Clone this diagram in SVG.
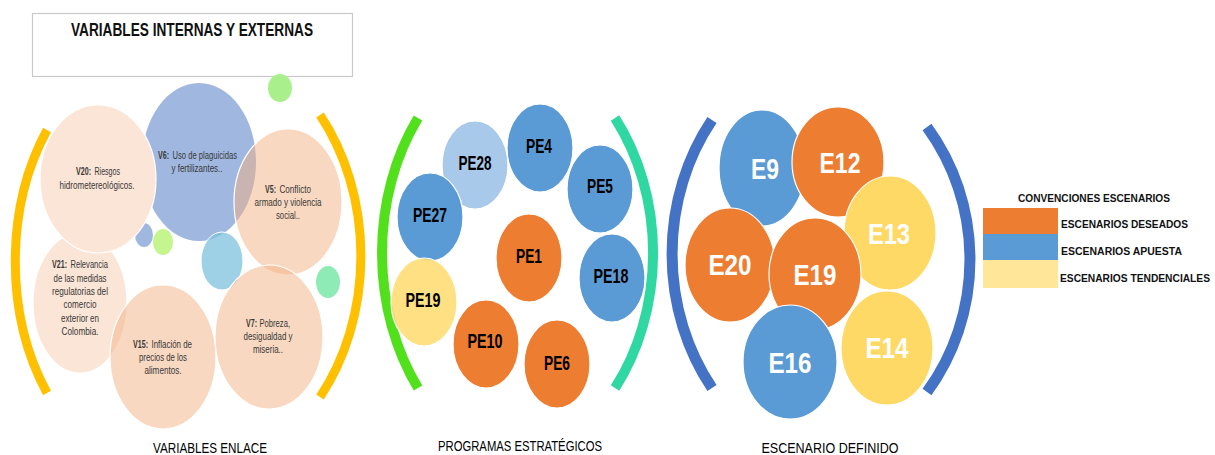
<svg xmlns="http://www.w3.org/2000/svg" width="1215" height="455" viewBox="0 0 1215 455">
<style>
text{font-family:"Liberation Sans",Arial,sans-serif;}
.sm{font-size:10.5px;fill:#383838;text-anchor:middle;}
.sl{font-size:10.5px;fill:#383838;}
.b{font-weight:bold;}
.pe{font-size:21px;font-weight:bold;fill:#000;text-anchor:middle;}
.e{font-size:30px;font-weight:bold;fill:#fff;text-anchor:middle;}
.cap{font-size:14.5px;fill:#000;text-anchor:middle;}
.leg{font-size:11.5px;font-weight:bold;fill:#111;}
.br{fill:none;stroke-linecap:butt;}
.wo{stroke:#fff;stroke-width:1.2;}
.peach{fill:#f4b183;fill-opacity:0.5;}
.lpeach{fill:#fbe5d6;}
.blu{fill:#5b9bd5;}
.org{fill:#ed7d31;}
.yel{fill:#ffd966;}
</style>
<rect width="1215" height="455" fill="#fff"/>

<g id="title">
<rect x="32.5" y="13.5" width="320" height="63" fill="#fff" stroke="#c9c9c9" stroke-width="1.2"/>
<text x="192" y="36" font-size="18.5" font-weight="bold" fill="#111" text-anchor="middle" textLength="242" lengthAdjust="spacingAndGlyphs">VARIABLES INTERNAS Y EXTERNAS</text>
</g>

<g id="brackets" class="br">
<path d="M47,130 A160,220 0 0 0 47,393" stroke="#ffc000" stroke-width="9"/>
<path d="M320,115 A176,220 0 0 1 320,397" stroke="#ffc000" stroke-width="9"/>
<path d="M418,118 A171,220 0 0 0 418,388" stroke="#52e01c" stroke-width="10"/>
<path d="M615,118 A181,220 0 0 1 615,388" stroke="#2fd7a1" stroke-width="10"/>
<path d="M712,120 A193,220 0 0 0 712,388" stroke="#4472c4" stroke-width="11"/>
<path d="M927,127 A213,220 0 0 1 927,392" stroke="#4472c4" stroke-width="11"/>
</g>

<g id="variables-enlace">
<g id="dot-green-top"><ellipse cx="280" cy="88" rx="12" ry="14" fill="#a9f08c"/></g>
<g id="V6"><ellipse cx="199" cy="162" rx="57" ry="79" fill="#a0b7e0"/>
<text class="sl b" x="158" y="159" textLength="11" lengthAdjust="spacingAndGlyphs">V6:</text>
<text class="sl" x="172.5" y="159" textLength="64.5" lengthAdjust="spacingAndGlyphs">Uso de plaguicidas</text>
<text class="sm" x="197" y="172" textLength="51" lengthAdjust="spacingAndGlyphs">y fertilizantes..</text></g>
<g id="dot-blue"><ellipse cx="144" cy="235" rx="9" ry="12" fill="#a0b7e0"/></g>
<g id="dot-green-left"><ellipse cx="163" cy="242" rx="10" ry="13" fill="#c5f58e"/></g>
<g id="V21"><ellipse class="lpeach wo" cx="80" cy="303" rx="47" ry="70"/>
<text class="sl b" x="52" y="268" textLength="15" lengthAdjust="spacingAndGlyphs">V21:</text>
<text class="sl" x="70.5" y="268" textLength="37.5" lengthAdjust="spacingAndGlyphs">Relevancia</text>
<text class="sm" x="80" y="281.5" textLength="53" lengthAdjust="spacingAndGlyphs">de las medidas</text>
<text class="sm" x="80" y="295" textLength="56" lengthAdjust="spacingAndGlyphs">regulatorias del</text>
<text class="sm" x="80" y="308" textLength="33" lengthAdjust="spacingAndGlyphs">comercio</text>
<text class="sm" x="80" y="321.5" textLength="38" lengthAdjust="spacingAndGlyphs">exterior en</text>
<text class="sm" x="80" y="335" textLength="37" lengthAdjust="spacingAndGlyphs">Colombia.</text></g>
<g id="V20"><ellipse class="lpeach wo" cx="98" cy="179" rx="58" ry="74"/>
<text class="sl b" x="76" y="175" textLength="15" lengthAdjust="spacingAndGlyphs">V20:</text>
<text class="sl" x="94.5" y="175" textLength="25.5" lengthAdjust="spacingAndGlyphs">Riesgos</text>
<text class="sm" x="97" y="189" textLength="75" lengthAdjust="spacingAndGlyphs">hidrometereológicos.</text></g>
<g id="V5"><ellipse class="peach wo" cx="288" cy="202" rx="54" ry="73"/>
<text class="sl b" x="265" y="193" textLength="11" lengthAdjust="spacingAndGlyphs">V5:</text>
<text class="sl" x="279.5" y="193" textLength="31.5" lengthAdjust="spacingAndGlyphs">Conflicto</text>
<text class="sm" x="288" y="206" textLength="67" lengthAdjust="spacingAndGlyphs">armado y violencia</text>
<text class="sm" x="288" y="219" textLength="24" lengthAdjust="spacingAndGlyphs">social..</text></g>
<g id="dot-teal"><ellipse cx="222" cy="261" rx="21" ry="29" fill="#7fc1dd" fill-opacity="0.75" stroke="#fff" stroke-width="1"/></g>
<g id="dot-green-right"><ellipse cx="328" cy="282" rx="12" ry="16" fill="#8eebb6"/></g>
<g id="V15"><ellipse class="peach wo" cx="163" cy="357" rx="53" ry="72"/>
<text class="sl b" x="133" y="348" textLength="15" lengthAdjust="spacingAndGlyphs">V15:</text>
<text class="sl" x="151.5" y="348" textLength="40.5" lengthAdjust="spacingAndGlyphs">Inflación de</text>
<text class="sm" x="163" y="361" textLength="48" lengthAdjust="spacingAndGlyphs">precios de los</text>
<text class="sm" x="163" y="374" textLength="37" lengthAdjust="spacingAndGlyphs">alimentos.</text></g>
<g id="V7"><ellipse class="peach wo" cx="269" cy="337" rx="54" ry="72"/>
<text class="sl b" x="246" y="327" textLength="11" lengthAdjust="spacingAndGlyphs">V7:</text>
<text class="sl" x="259.5" y="327" textLength="30.5" lengthAdjust="spacingAndGlyphs">Pobreza,</text>
<text class="sm" x="268" y="340" textLength="49" lengthAdjust="spacingAndGlyphs">desigualdad y</text>
<text class="sm" x="268" y="353" textLength="30" lengthAdjust="spacingAndGlyphs">miseria..</text></g>
<text class="cap" x="210" y="453" textLength="114" lengthAdjust="spacingAndGlyphs">VARIABLES ENLACE</text>
</g>

<g id="programas-estrategicos">
<g id="PE28"><ellipse cx="475" cy="165" rx="33" ry="44" fill="#a9c9ea" class="wo"/><text class="pe" x="475" y="170" textLength="33" lengthAdjust="spacingAndGlyphs">PE28</text></g>
<g id="PE4"><ellipse class="blu wo" cx="540" cy="148" rx="33" ry="44"/><text class="pe" x="539" y="153" textLength="26" lengthAdjust="spacingAndGlyphs">PE4</text></g>
<g id="PE5"><ellipse class="blu wo" cx="600" cy="189" rx="33" ry="44"/><text class="pe" x="600" y="193" textLength="26" lengthAdjust="spacingAndGlyphs">PE5</text></g>
<g id="PE27"><ellipse class="blu wo" cx="430" cy="217" rx="33" ry="44"/><text class="pe" x="430" y="222" textLength="34" lengthAdjust="spacingAndGlyphs">PE27</text></g>
<g id="PE1"><ellipse class="org wo" cx="529" cy="258" rx="33" ry="44"/><text class="pe" x="529" y="263" textLength="26" lengthAdjust="spacingAndGlyphs">PE1</text></g>
<g id="PE18"><ellipse class="blu wo" cx="612" cy="278" rx="33" ry="44"/><text class="pe" x="611" y="283" textLength="35" lengthAdjust="spacingAndGlyphs">PE18</text></g>
<g id="PE19"><ellipse cx="424" cy="302" rx="33" ry="44" fill="#ffd966" fill-opacity="0.82" class="wo"/><text class="pe" x="423" y="307" textLength="35" lengthAdjust="spacingAndGlyphs">PE19</text></g>
<g id="PE10"><ellipse class="org wo" cx="486" cy="344" rx="33" ry="44"/><text class="pe" x="485" y="348" textLength="35" lengthAdjust="spacingAndGlyphs">PE10</text></g>
<g id="PE6"><ellipse class="org wo" cx="557" cy="364" rx="33" ry="44"/><text class="pe" x="557" y="370" textLength="26" lengthAdjust="spacingAndGlyphs">PE6</text></g>
<text class="cap" x="520" y="451" textLength="164" lengthAdjust="spacingAndGlyphs">PROGRAMAS ESTRATÉGICOS</text>
</g>

<g id="escenario-definido">
<g id="E9"><ellipse class="blu wo" cx="762" cy="168" rx="43" ry="58"/><text class="e" x="765" y="179" textLength="28" lengthAdjust="spacingAndGlyphs">E9</text></g>
<g id="E12"><ellipse class="org wo" cx="838" cy="162" rx="46" ry="55"/><text class="e" x="840" y="173" textLength="41" lengthAdjust="spacingAndGlyphs">E12</text></g>
<g id="E13"><ellipse class="yel wo" cx="890" cy="233" rx="46" ry="57"/><text class="e" x="889" y="244" textLength="42" lengthAdjust="spacingAndGlyphs">E13</text></g>
<g id="E14"><ellipse class="yel wo" cx="887" cy="348" rx="46" ry="57"/><text class="e" x="887" y="358" textLength="43" lengthAdjust="spacingAndGlyphs">E14</text></g>
<g id="E20"><ellipse class="org wo" cx="730" cy="265" rx="45" ry="57"/><text class="e" x="730" y="275" textLength="43" lengthAdjust="spacingAndGlyphs">E20</text></g>
<g id="E19"><ellipse class="org wo" cx="815" cy="274" rx="46" ry="56"/><text class="e" x="815" y="285" textLength="43" lengthAdjust="spacingAndGlyphs">E19</text></g>
<g id="E16"><ellipse class="blu wo" cx="790" cy="362" rx="47" ry="57"/><text class="e" x="790" y="373" textLength="43" lengthAdjust="spacingAndGlyphs">E16</text></g>
<text class="cap" x="830" y="453" textLength="137" lengthAdjust="spacingAndGlyphs">ESCENARIO DEFINIDO</text>
</g>

<g id="legend">
<text class="leg" x="1094" y="202" text-anchor="middle" textLength="152" lengthAdjust="spacingAndGlyphs">CONVENCIONES ESCENARIOS</text>
<rect x="983" y="208" width="75" height="26" fill="#ed7d31"/>
<rect x="983" y="234" width="75" height="26" fill="#5b9bd5"/>
<rect x="983" y="260" width="75" height="28" fill="#ffe699"/>
<text class="leg" x="1061" y="228" textLength="127" lengthAdjust="spacingAndGlyphs">ESCENARIOS DESEADOS</text>
<text class="leg" x="1061" y="255" textLength="121" lengthAdjust="spacingAndGlyphs">ESCENARIOS APUESTA</text>
<text class="leg" x="1060" y="282" textLength="150" lengthAdjust="spacingAndGlyphs">ESCENARIOS TENDENCIALES</text>
</g>
</svg>
